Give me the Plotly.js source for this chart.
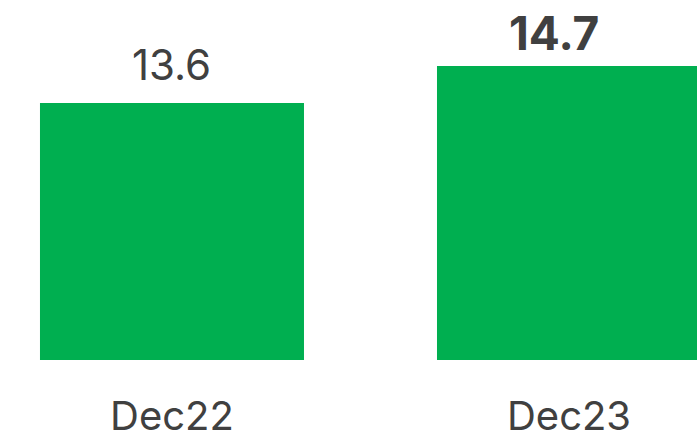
<!DOCTYPE html>
<html>
<head>
<meta charset="utf-8">
<script src="https://cdn.plot.ly/plotly-3.0.1.min.js"></script>
<style>html,body{margin:0;padding:0;background:#fff;}#chart{width:697px;height:443px;}</style>
</head>
<body>
<div id="chart"></div>
<script>
const categories = ["Dec22", "Dec23"];
const values = [13.6, 14.7];
const valueLabels = ["13.6", "<b>14.7</b>"];
const labelSizes = [42, 46];
const labelShifts = [11, 3];
const labelXShifts = [0, -15];

const FONT = "Inter, 'Open Sans', sans-serif";
const TEXT_COLOR = "#404040";

const trace = {
  type: "bar",
  x: categories,
  y: values,
  width: 0.665,
  marker: {color: "#00AF50", line: {width: 0}},
  hoverinfo: "none"
};

const annotations = categories.map((c, i) => ({
  x: c, y: values[i], xref: "x", yref: "y",
  text: valueLabels[i], showarrow: false,
  yanchor: "bottom", yshift: labelShifts[i], xshift: labelXShifts[i],
  font: {family: FONT, size: labelSizes[i], color: TEXT_COLOR}
}));

const layout = {
  width: 697, height: 443,
  margin: {l: 0, r: 0, t: 0, b: 83, pad: 0},
  paper_bgcolor: "#ffffff", plot_bgcolor: "#ffffff",
  showlegend: false,
  xaxis: {
    type: "category",
    range: [-0.4332, 1.3224],
    showgrid: false, zeroline: false, showline: false, ticks: "",
    tickfont: {family: FONT, size: 40, color: TEXT_COLOR},
    ticklabelstandoff: 29,
    fixedrange: true
  },
  yaxis: {
    range: [5.96, 16.66],
    showgrid: false, zeroline: false, showline: false, showticklabels: false, ticks: "",
    fixedrange: true
  },
  annotations: annotations
};

Plotly.newPlot("chart", [trace], layout, {displayModeBar: false, staticPlot: true});
</script>
</body>
</html>
